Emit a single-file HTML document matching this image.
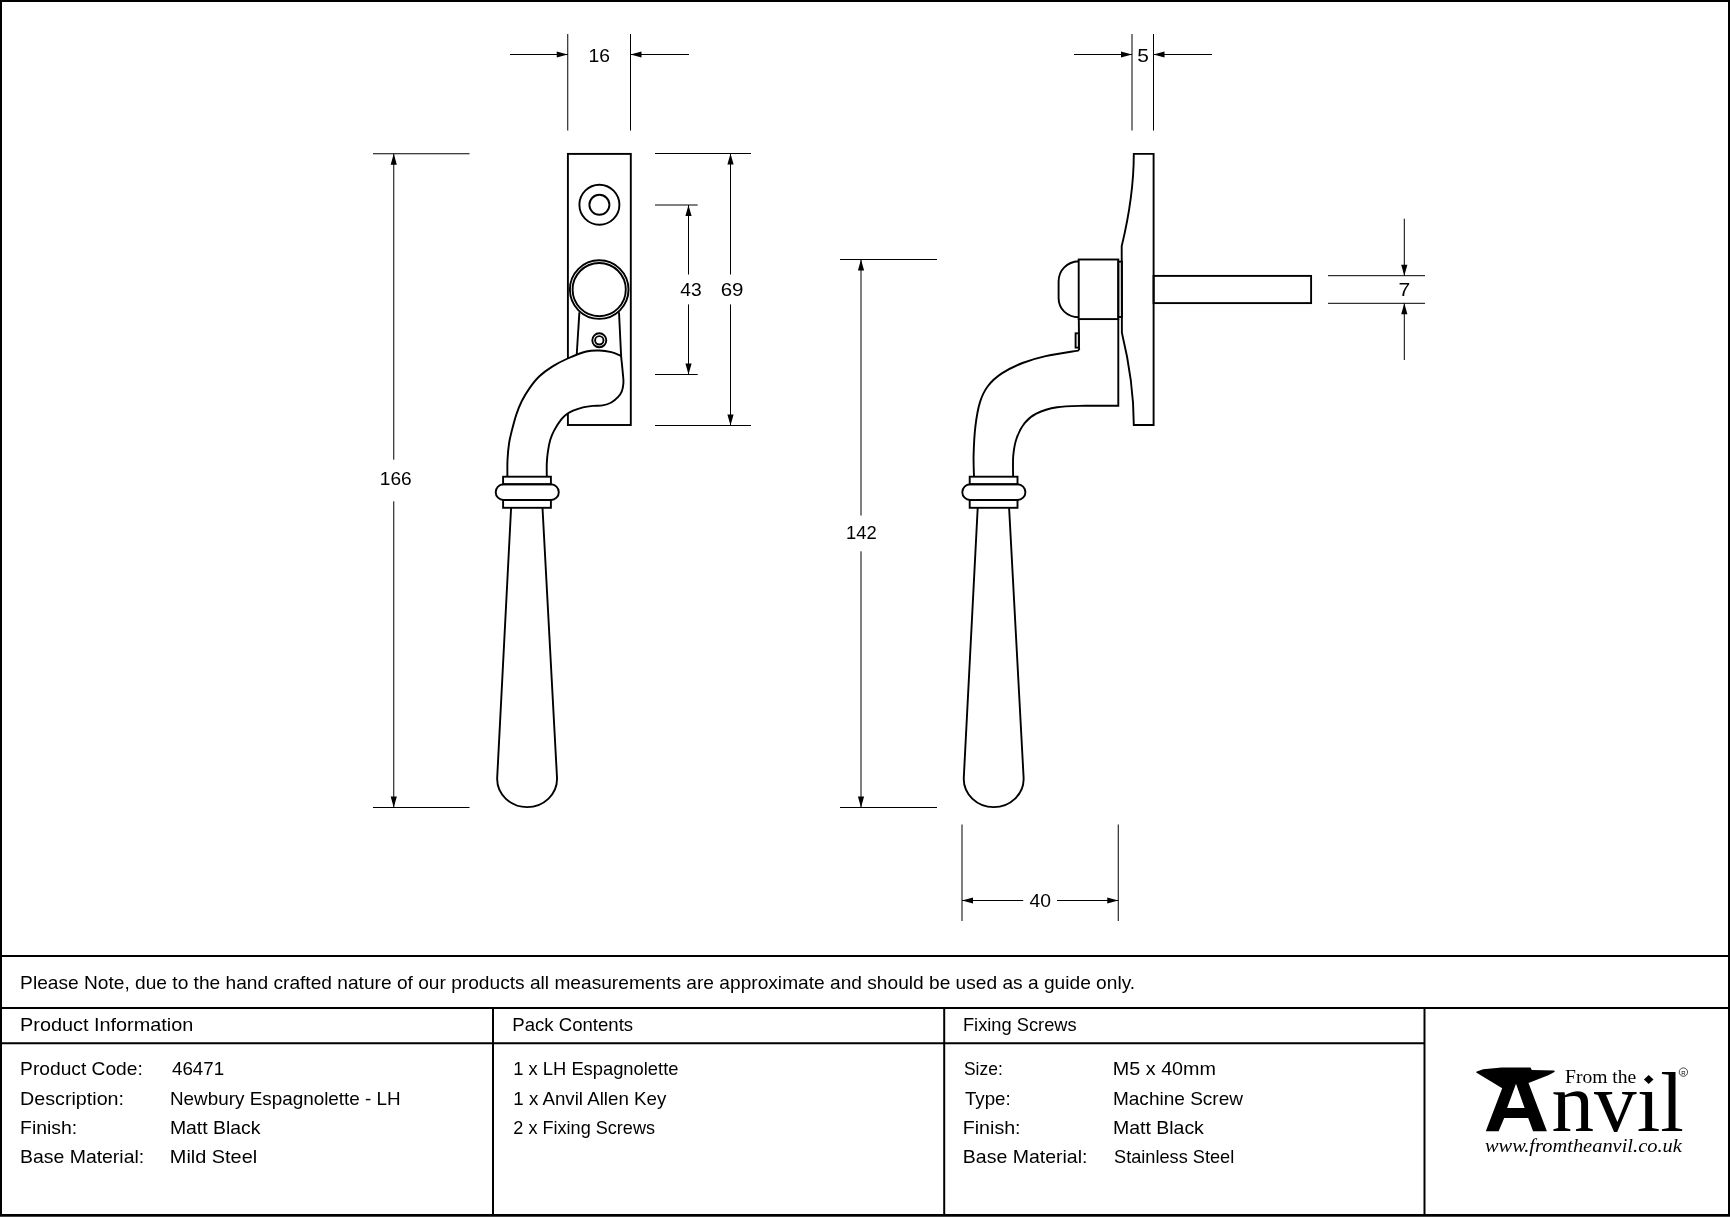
<!DOCTYPE html>
<html><head><meta charset="utf-8"><title>Newbury Espagnolette - LH</title>
<style>
html,body{margin:0;padding:0;background:#fff;}
svg{display:block;will-change:transform;}
.d{stroke:#000;stroke-width:1;fill:none;}
.b{stroke:#000;stroke-width:2;fill:none;}
.o{stroke:#000;stroke-width:1.9;fill:none;}
.a{fill:#000;stroke:none;}
.t{font-family:"Liberation Sans",sans-serif;fill:#000;}
.s{font-family:"Liberation Serif",serif;fill:#000;}
.i{font-family:"Liberation Serif",serif;font-style:italic;fill:#000;}
</style></head>
<body>
<svg width="1730" height="1217" viewBox="0 0 1730 1217">
<rect x="0" y="0" width="1730" height="1217" fill="#fff"/>
<rect x="1" y="1" width="1728" height="1214" fill="none" stroke="#000" stroke-width="2"/>
<rect x="0" y="1216" width="1730" height="1" fill="#444"/>
<line class="b" x1="0" y1="956" x2="1730" y2="956"/>
<line class="b" x1="0" y1="1008" x2="1730" y2="1008"/>
<line class="b" x1="0" y1="1043.2" x2="1424.5" y2="1043.2"/>
<line class="b" x1="493" y1="1008" x2="493" y2="1216"/>
<line class="b" x1="944.2" y1="1008" x2="944.2" y2="1216"/>
<line class="b" x1="1424.5" y1="1008" x2="1424.5" y2="1216"/>
<line class="d" x1="567.75" y1="34" x2="567.75" y2="130.5"/>
<line class="d" x1="630.5" y1="34" x2="630.5" y2="130.5"/>
<line class="d" x1="510" y1="54.5" x2="567.75" y2="54.5"/>
<polygon class="a" points="567.75,54.5 556.75,51.4 556.75,57.6"/>
<line class="d" x1="630.5" y1="54.5" x2="689" y2="54.5"/>
<polygon class="a" points="630.5,54.5 641.5,51.4 641.5,57.6"/>
<line class="d" x1="373" y1="153.75" x2="469.5" y2="153.75"/>
<line class="d" x1="373" y1="807.5" x2="469.5" y2="807.5"/>
<line class="d" x1="393.75" y1="153.75" x2="393.75" y2="459.7"/>
<line class="d" x1="393.75" y1="501.3" x2="393.75" y2="807.5"/>
<polygon class="a" points="393.75,153.75 390.65,164.75 396.85,164.75"/>
<polygon class="a" points="393.75,807.5 390.65,796.5 396.85,796.5"/>
<line class="d" x1="655" y1="153.5" x2="751" y2="153.5"/>
<line class="d" x1="655" y1="425.5" x2="751" y2="425.5"/>
<line class="d" x1="730.5" y1="153.5" x2="730.5" y2="274.5"/>
<line class="d" x1="730.5" y1="304.4" x2="730.5" y2="425.5"/>
<polygon class="a" points="730.5,153.5 727.4,164.5 733.6,164.5"/>
<polygon class="a" points="730.5,425.5 727.4,414.5 733.6,414.5"/>
<line class="d" x1="655" y1="205" x2="697.7" y2="205"/>
<line class="d" x1="655" y1="374.5" x2="697.7" y2="374.5"/>
<line class="d" x1="688.5" y1="205" x2="688.5" y2="274.5"/>
<line class="d" x1="688.5" y1="304.4" x2="688.5" y2="374.5"/>
<polygon class="a" points="688.5,205 685.4,216 691.6,216"/>
<polygon class="a" points="688.5,374.5 685.4,363.5 691.6,363.5"/>
<line class="d" x1="1132" y1="34" x2="1132" y2="130.5"/>
<line class="d" x1="1153.5" y1="34" x2="1153.5" y2="130.5"/>
<line class="d" x1="1074" y1="54.5" x2="1132" y2="54.5"/>
<polygon class="a" points="1132,54.5 1121,51.4 1121,57.6"/>
<line class="d" x1="1153.5" y1="54.5" x2="1212" y2="54.5"/>
<polygon class="a" points="1153.5,54.5 1164.5,51.4 1164.5,57.6"/>
<line class="d" x1="840" y1="259.5" x2="937" y2="259.5"/>
<line class="d" x1="840" y1="807.5" x2="937" y2="807.5"/>
<line class="d" x1="861" y1="259.5" x2="861" y2="515.6"/>
<line class="d" x1="861" y1="551.3" x2="861" y2="807.5"/>
<polygon class="a" points="861,259.5 857.9,270.5 864.1,270.5"/>
<polygon class="a" points="861,807.5 857.9,796.5 864.1,796.5"/>
<line class="d" x1="962" y1="824.5" x2="962" y2="921"/>
<line class="d" x1="1118.25" y1="824.5" x2="1118.25" y2="921"/>
<line class="d" x1="962" y1="900.5" x2="1023.2" y2="900.5"/>
<polygon class="a" points="962,900.5 973,897.4 973,903.6"/>
<line class="d" x1="1057" y1="900.5" x2="1118.25" y2="900.5"/>
<polygon class="a" points="1118.25,900.5 1107.25,897.4 1107.25,903.6"/>
<line class="d" x1="1328" y1="275.7" x2="1425" y2="275.7"/>
<line class="d" x1="1328" y1="303.3" x2="1425" y2="303.3"/>
<line class="d" x1="1404.3" y1="218.7" x2="1404.3" y2="275.7"/>
<line class="d" x1="1404.3" y1="303.3" x2="1404.3" y2="360"/>
<polygon class="a" points="1404.3,275.7 1401.2,264.7 1407.4,264.7"/>
<polygon class="a" points="1404.3,303.3 1401.2,314.3 1407.4,314.3"/>
<rect class="o" x="567.9" y="153.9" width="62.9" height="271.1"/>
<circle class="o" cx="599.4" cy="204.8" r="20"/>
<circle class="o" cx="599.4" cy="204.8" r="10"/>
<circle class="o" cx="599.2" cy="289.6" r="29.3"/>
<circle class="o" cx="599.2" cy="289.6" r="26.6"/>
<circle class="o" cx="599.3" cy="340.3" r="7"/>
<circle class="o" cx="599.3" cy="340.3" r="4.2"/>
<path class="o" d="M579.4,312.3 L576.7,354.8"/>
<path fill="#fff" stroke="none" d="M507.4,476.7 C507.42,473.92 507.22,465.62 507.5,460 C507.78,454.38 508.35,448 509.1,443 C509.85,438 510.78,434.77 512,430 C513.22,425.23 514.78,419.18 516.4,414.4 C518.02,409.62 519.5,405.68 521.7,401.3 C523.9,396.92 526.65,392.27 529.6,388.1 C532.55,383.93 535.57,379.92 539.4,376.3 C543.23,372.68 547.88,369.37 552.6,366.4 C557.32,363.43 562.08,360.98 567.7,358.5 C573.32,356.02 581.02,352.83 586.3,351.5 C591.58,350.17 595.23,350.38 599.4,350.5 C603.57,350.62 607.68,351.32 611.3,352.2 C614.92,353.08 619.47,355.2 621.1,355.8 C621.43,359.2 622.72,371.6 623.1,376.2 C623.48,380.8 623.62,380.88 623.4,383.4 C623.18,385.92 622.72,389 621.8,391.3 C620.88,393.6 619.65,395.33 617.9,397.2 C616.15,399.07 613.83,401.13 611.3,402.5 C608.77,403.87 605.77,404.83 602.7,405.4 C599.63,405.97 596.18,405.57 592.9,405.9 C589.62,406.23 586.3,406.6 583,407.4 C579.7,408.2 575.83,409.55 573.1,410.7 C570.37,411.85 568.6,412.8 566.6,414.3 C564.6,415.8 563.17,417.02 561.1,419.7 C559.03,422.38 556.02,427 554.2,430.4 C552.38,433.8 551.25,436.57 550.2,440.1 C549.15,443.63 548.47,447.77 547.9,451.6 C547.33,455.43 546.98,458.92 546.8,463.1 C546.62,467.28 546.8,474.43 546.8,476.7 Z"/>
<path class="o" d="M507.4,476.7 C507.42,473.92 507.22,465.62 507.5,460 C507.78,454.38 508.35,448 509.1,443 C509.85,438 510.78,434.77 512,430 C513.22,425.23 514.78,419.18 516.4,414.4 C518.02,409.62 519.5,405.68 521.7,401.3 C523.9,396.92 526.65,392.27 529.6,388.1 C532.55,383.93 535.57,379.92 539.4,376.3 C543.23,372.68 547.88,369.37 552.6,366.4 C557.32,363.43 562.08,360.98 567.7,358.5 C573.32,356.02 581.02,352.83 586.3,351.5 C591.58,350.17 595.23,350.38 599.4,350.5 C603.57,350.62 607.68,351.32 611.3,352.2 C614.92,353.08 619.47,355.2 621.1,355.8"/>
<path class="o" d="M619,312.3 L621.1,355.8 C621.43,359.2 622.72,371.6 623.1,376.2 C623.48,380.8 623.62,380.88 623.4,383.4 C623.18,385.92 622.72,389 621.8,391.3 C620.88,393.6 619.65,395.33 617.9,397.2 C616.15,399.07 613.83,401.13 611.3,402.5 C608.77,403.87 605.77,404.83 602.7,405.4 C599.63,405.97 596.18,405.57 592.9,405.9 C589.62,406.23 586.3,406.6 583,407.4 C579.7,408.2 575.83,409.55 573.1,410.7 C570.37,411.85 568.6,412.8 566.6,414.3 C564.6,415.8 563.17,417.02 561.1,419.7 C559.03,422.38 556.02,427 554.2,430.4 C552.38,433.8 551.25,436.57 550.2,440.1 C549.15,443.63 548.47,447.77 547.9,451.6 C547.33,455.43 546.98,458.92 546.8,463.1 C546.62,467.28 546.8,474.43 546.8,476.7"/>
<rect class="o" x="503.1" y="476.7" width="47.8" height="7.6"/>
<rect class="o" x="495.7" y="484.3" width="63.1" height="15.7" rx="7.85" ry="7.85"/>
<rect class="o" x="503.1" y="500" width="47.8" height="7.8"/>
<path class="o" d="M511.1,507.8 L497.2,777.5 C496.35,794.2 510.6,807.1 527.1,807.1 C543.6,807.1 557.85,794.2 557,777.5 L542.5,507.8"/>
<rect class="o" x="969.7" y="476.7" width="47.8" height="7.6"/>
<rect class="o" x="962.3" y="484.3" width="63.1" height="15.7" rx="7.85" ry="7.85"/>
<rect class="o" x="969.7" y="500" width="47.8" height="7.8"/>
<path class="o" d="M977.7,507.8 L963.8,777.5 C962.95,794.2 977.2,807.1 993.7,807.1 C1010.2,807.1 1024.45,794.2 1023.6,777.5 L1009.1,507.8"/>
<path class="o" d="M974,476.7 C973.93,473.1 973.37,463.5 973.6,455.1 C973.83,446.7 974.33,435.13 975.4,426.3 C976.47,417.47 977.9,408.82 980,402.1 C982.1,395.38 984.37,390.78 988,386 C991.63,381.22 996.05,377.23 1001.8,373.4 C1007.55,369.57 1015.2,365.88 1022.5,363 C1029.8,360.12 1036.18,358.2 1045.6,356.1 C1055.02,354 1073.43,351.35 1079,350.4"/>
<path class="o" d="M1013.1,476.7 C1013.13,473.1 1012.68,461.58 1013.3,455.1 C1013.92,448.62 1014.88,443.17 1016.8,437.8 C1018.72,432.43 1021.55,426.93 1024.8,422.9 C1028.05,418.87 1030.92,416.2 1036.3,413.6 C1041.68,411 1048.98,408.62 1057.1,407.3 C1065.22,405.98 1080.35,405.97 1085,405.7 L1118.3,405.7 L1118.3,319.1"/>
<rect class="o" x="1078.7" y="259.5" width="39.6" height="59.6"/>
<path class="o" d="M1078.8,319.1 L1079.1,350.2"/>
<rect class="o" x="1075.6" y="333.3" width="3.2" height="14.3"/>
<rect class="o" x="1118.3" y="261.6" width="3.6" height="55.4"/>
<path class="o" d="M1078.7,261.3 C1067,262 1058.6,270 1058.6,281.6 L1058.6,297.9 C1058.6,309 1067,316.8 1078.7,317.3"/>
<path class="o" d="M1153.6,425 L1153.6,153.9 L1133.8,153.9 C1133.8,185 1128,220 1121.7,246.1 L1121.9,332.8 C1127.5,356 1133.8,390 1133.8,425 Z"/>
<rect class="o" x="1153.6" y="275.9" width="157.5" height="27.2"/>
<text class="t" x="20.14" y="989" font-size="18.6" textLength="1115.02" lengthAdjust="spacingAndGlyphs" >Please Note, due to the hand crafted nature of our products all measurements are approximate and should be used as a guide only.</text>
<text class="t" x="20.07" y="1030.8" font-size="18.6" textLength="173.19" lengthAdjust="spacingAndGlyphs" >Product Information</text>
<text class="t" x="512.3" y="1031" font-size="18.6" textLength="120.84" lengthAdjust="spacingAndGlyphs" >Pack Contents</text>
<text class="t" x="962.94" y="1030.7" font-size="18.6" textLength="113.69" lengthAdjust="spacingAndGlyphs" >Fixing Screws</text>
<text class="t" x="20.14" y="1075.1" font-size="18.6" textLength="122.6" lengthAdjust="spacingAndGlyphs" >Product Code:</text>
<text class="t" x="20.08" y="1104.6" font-size="18.6" textLength="103.96" lengthAdjust="spacingAndGlyphs" >Description:</text>
<text class="t" x="20.11" y="1133.5" font-size="18.6" textLength="57.13" lengthAdjust="spacingAndGlyphs" >Finish:</text>
<text class="t" x="20.11" y="1162.8" font-size="18.6" textLength="124.03" lengthAdjust="spacingAndGlyphs" >Base Material:</text>
<text class="t" x="172" y="1075.1" font-size="18.6" textLength="52.12" lengthAdjust="spacingAndGlyphs" >46471</text>
<text class="t" x="169.97" y="1104.6" font-size="18.6" textLength="230.72" lengthAdjust="spacingAndGlyphs" >Newbury Espagnolette - LH</text>
<text class="t" x="169.91" y="1133.5" font-size="18.6" textLength="90.58" lengthAdjust="spacingAndGlyphs" >Matt Black</text>
<text class="t" x="169.86" y="1162.8" font-size="18.6" textLength="87.29" lengthAdjust="spacingAndGlyphs" >Mild Steel</text>
<text class="t" x="513.31" y="1075.1" font-size="18.6" textLength="165.13" lengthAdjust="spacingAndGlyphs" >1 x LH Espagnolette</text>
<text class="t" x="513.29" y="1104.6" font-size="18.6" textLength="153.04" lengthAdjust="spacingAndGlyphs" >1 x Anvil Allen Key</text>
<text class="t" x="513.33" y="1133.5" font-size="18.6" textLength="141.66" lengthAdjust="spacingAndGlyphs" >2 x Fixing Screws</text>
<text class="t" x="963.96" y="1075.1" font-size="18.6" textLength="38.8" lengthAdjust="spacingAndGlyphs" >Size:</text>
<text class="t" x="964.9" y="1104.6" font-size="18.6" textLength="45.79" lengthAdjust="spacingAndGlyphs" >Type:</text>
<text class="t" x="962.79" y="1133.5" font-size="18.6" textLength="57.77" lengthAdjust="spacingAndGlyphs" >Finish:</text>
<text class="t" x="962.8" y="1162.8" font-size="18.6" textLength="124.65" lengthAdjust="spacingAndGlyphs" >Base Material:</text>
<text class="t" x="1112.88" y="1075.1" font-size="18.6" textLength="103.12" lengthAdjust="spacingAndGlyphs" >M5 x 40mm</text>
<text class="t" x="1112.95" y="1104.6" font-size="18.6" textLength="130.06" lengthAdjust="spacingAndGlyphs" >Machine Screw</text>
<text class="t" x="1112.9" y="1133.5" font-size="18.6" textLength="90.98" lengthAdjust="spacingAndGlyphs" >Matt Black</text>
<text class="t" x="1114.02" y="1162.8" font-size="18.6" textLength="120.26" lengthAdjust="spacingAndGlyphs" >Stainless Steel</text>
<text class="t" x="588.54" y="61.6" font-size="18.2" textLength="21.47" lengthAdjust="spacingAndGlyphs" >16</text>
<text class="t" x="379.75" y="485.2" font-size="18.2" textLength="31.93" lengthAdjust="spacingAndGlyphs" >166</text>
<text class="t" x="680.2" y="295.9" font-size="18.2" textLength="21.41" lengthAdjust="spacingAndGlyphs" >43</text>
<text class="t" x="720.67" y="295.9" font-size="18.2" textLength="22.82" lengthAdjust="spacingAndGlyphs" >69</text>
<text class="t" x="1137.25" y="61.8" font-size="18.2" textLength="11.64" lengthAdjust="spacingAndGlyphs" >5</text>
<text class="t" x="845.99" y="539" font-size="18.2" textLength="30.67" lengthAdjust="spacingAndGlyphs" >142</text>
<text class="t" x="1029.6" y="906.9" font-size="18.2" textLength="21.51" lengthAdjust="spacingAndGlyphs" >40</text>
<text class="t" x="1398.64" y="295.8" font-size="18.2" textLength="11.77" lengthAdjust="spacingAndGlyphs" >7</text>
<text class="s" x="1565" y="1083" font-size="19.6" textLength="71.3" lengthAdjust="spacingAndGlyphs" >From the</text>
<text class="s" x="1551.5" y="1131.3" font-size="85" textLength="132.54" lengthAdjust="spacingAndGlyphs" >nv&#305;l</text>
<text class="i" x="1484.9" y="1151.6" font-size="18.5" textLength="196.95" lengthAdjust="spacingAndGlyphs" >www.fromtheanvil.co.uk</text>
<path d="M1476.2,1071.8 L1483.1,1069.2 L1501.6,1067.6 L1530.5,1067.6 L1531.8,1069.9 L1554.2,1070.5 L1554.8,1071.8 L1548.9,1075.1 L1528.5,1083 L1546.9,1131.3 L1533.1,1131.3 L1528.2,1117.9 L1504.2,1117.9 L1498.6,1131.3 L1485.8,1131.3 L1502.2,1088.3 L1476.2,1072.5 Z M1516,1083.7 L1524.6,1107.9 L1507.1,1107.9 Z" fill="#000" fill-rule="evenodd"/>
<polygon points="1648.7,1074.9 1653.5,1079.5 1648.7,1084.1 1643.9,1079.5" fill="#000"/>
<circle cx="1683.4" cy="1072.1" r="4.2" fill="none" stroke="#000" stroke-width="0.7"/>
<text class="t" x="1683.4" y="1074.5" font-size="6" text-anchor="middle" >R</text>
</svg>
</body></html>
